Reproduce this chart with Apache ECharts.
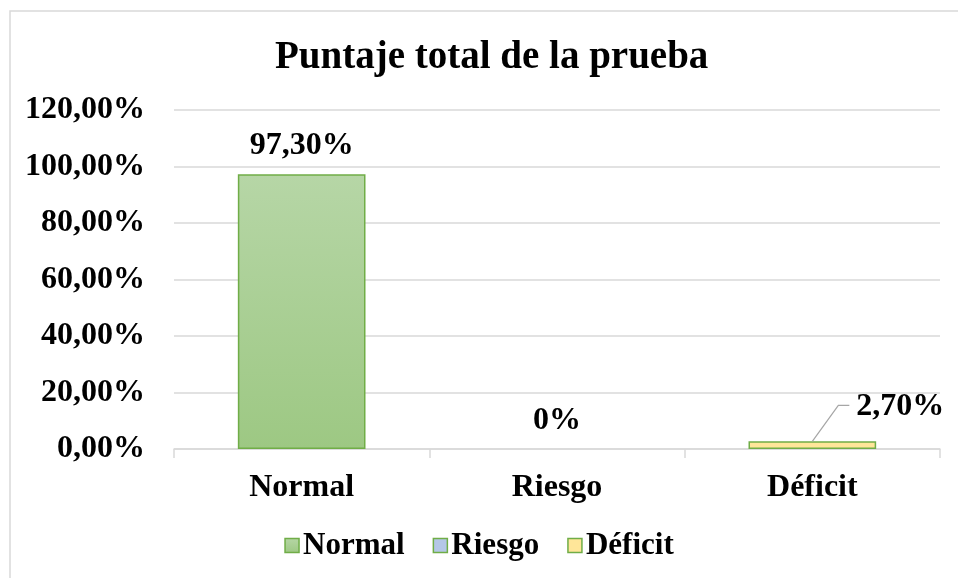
<!DOCTYPE html>
<html>
<head>
<meta charset="utf-8">
<script src="https://cdn.jsdelivr.net/npm/echarts@6/dist/echarts.min.js"></script>
<style>
  html, body { margin: 0; padding: 0; background: #fff; }
  #chart { width: 958px; height: 578px; }
</style>
</head>
<body>
<div id="chart"></div>
<script>
// datos
var categories = ['Normal', 'Riesgo', 'Déficit'];
var values = [97.3, 0, 2.7];
var yTicks = { min: 0, max: 120, interval: 20 };

var fills = [
  new echarts.graphic.LinearGradient(0, 0, 0, 1, [
    { offset: 0, color: '#B6D6A6' },
    { offset: 1, color: '#9DC883' }
  ]),
  '#B4C7E7',
  '#FFE699'
];
var font = '"Liberation Serif", "Times New Roman", serif';

function pct(v) {
  if (v === 0) return '0%';
  return v.toFixed(2).replace('.', ',') + '%';
}

var chart = echarts.init(document.getElementById('chart'));

// una serie por categoría para la leyenda
var series = categories.map(function (name, i) {
  var data = categories.map(function (c, j) {
    if (j !== i) return '-';
    // sin borde cuando la barra vale 0
    return values[i] > 0 ? values[i] : { value: values[i], itemStyle: { borderWidth: 0 } };
  });
  return {
    name: name,
    type: 'bar',
    stack: 'total',
    barWidth: '50%',
    data: data,
    itemStyle: { color: fills[i], borderColor: '#70AD47', borderWidth: 1.5 },
    label: {
      show: i !== 2,
      position: 'top',
      distance: 12,
      fontFamily: font,
      fontWeight: 'bold',
      fontSize: 32,
      color: '#000',
      formatter: function (p) { return pct(p.value); }
    }
  };
});

// etiqueta del déficit con línea guía
series.push({
  type: 'custom',
  name: 'etiqueta',
  silent: true,
  z: 10,
  data: [[2, values[2]]],
  renderItem: function (params, api) {
    var p = api.coord([api.value(0), api.value(1)]);
    return {
      type: 'group',
      children: [{
        type: 'polyline',
        shape: { points: [[p[0], p[1]], [p[0] + 26, p[1] - 36], [p[0] + 37, p[1] - 36]] },
        style: { stroke: '#A6A6A6', lineWidth: 1.2, fill: 'none' }
      }, {
        type: 'text',
        x: p[0] + 44,
        y: p[1] - 35,
        style: {
          text: pct(api.value(1)),
          font: 'bold 32px ' + font,
          fill: '#000',
          verticalAlign: 'middle',
          align: 'left'
        }
      }]
    };
  }
});

var option = {
  backgroundColor: '#fff',
  textStyle: { fontFamily: font },
  title: {
    text: 'Puntaje total de la prueba',
    left: 270,
    top: 33,
    textStyle: { fontFamily: font, fontWeight: 'bold', fontSize: 39, color: '#000' }
  },
  legend: {
    bottom: 12,
    left: 'center',
    icon: 'rect',
    itemWidth: 14,
    itemHeight: 14,
    itemGap: 28,
    itemStyle: { borderColor: '#70AD47', borderWidth: 1.5 },
    data: categories,
    textStyle: { fontFamily: font, fontWeight: 'bold', fontSize: 31, color: '#000', padding: [0, 0, 0, -1] }
  },
  grid: { left: 174, right: 18, top: 110, bottom: 129, containLabel: false },
  xAxis: {
    type: 'category',
    data: categories,
    axisLine: { lineStyle: { color: '#D9D9D9', width: 1.5 } },
    axisTick: { show: true, length: 9, lineStyle: { color: '#D9D9D9', width: 1.5 } },
    axisLabel: { fontFamily: font, fontWeight: 'bold', fontSize: 32, color: '#000', margin: 23 }
  },
  yAxis: {
    type: 'value',
    min: yTicks.min,
    max: yTicks.max,
    interval: yTicks.interval,
    axisLine: { show: false },
    axisTick: { show: false },
    splitLine: { lineStyle: { color: '#D9D9D9', width: 1.5 } },
    axisLabel: {
      fontFamily: font, fontWeight: 'bold', fontSize: 32, color: '#000', margin: 29,
      formatter: function (v) { return v.toFixed(2).replace('.', ',') + '%'; }
    }
  },
  graphic: [{
    type: 'rect',
    shape: { x: 10, y: 11, width: 960, height: 600 },
    style: { fill: 'none', stroke: '#D9D9D9', lineWidth: 1.5 },
    silent: true
  }],
  series: series
};

chart.setOption(option);
</script>
</body>
</html>
